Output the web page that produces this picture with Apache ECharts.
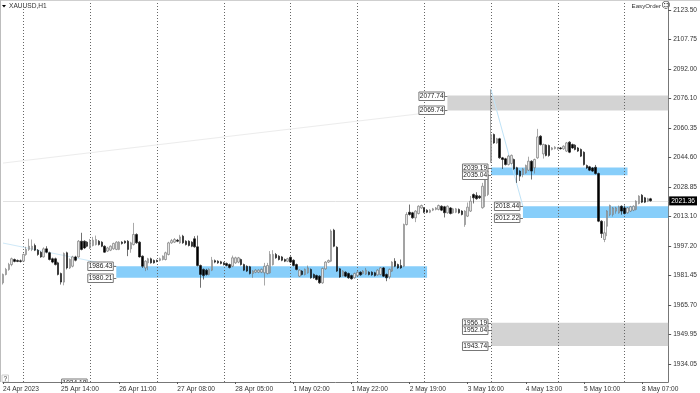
<!DOCTYPE html>
<html><head><meta charset="utf-8">
<style>html,body{margin:0;padding:0;background:#fff}#c{width:700px;height:393px}</style>
<script src="https://cdn.jsdelivr.net/npm/echarts@6/dist/echarts.min.js"></script>
</head><body><div id="c"></div>
<script>
// Each row: [open, close, low, high]
const barsApr24=[[1977.5,1982.0,1976.6,1982.5],[1982.0,1984.7,1981.5,1985.5],[1984.7,1987.3,1984,1988.2],[1987.3,1990.4,1986.4,1991],[1990.0,1989.0,1988.5,1990.5],[1989.5,1989,1988.6,1990],[1989.3,1989,1988.4,1990]];
const barsApr25=[[1989.1,1992.7,1988.6,1993.2],[1992.7,1995.4,1992,1996.8],[1995.4,1997.1,1994.6,2001.1],[1995.4,1997.1,1994.5,2000.7],[1997.5,1995,1994.5,1998.5],[1995,1992.7,1992,1995.6],[1993.9,1991.4,1990.9,1994.5],[1991.4,1995.7,1991,1996.5],[1995.7,1993.9,1993.3,1997.1],[1993.6,1990,1989.5,1994.2],[1990.4,1988.6,1988,1991],[1990.4,1987.3,1986.8,1991],[1988.2,1982,1981.5,1988.8],[1982.5,1977.9,1976.6,1983],[1977.9,1993.2,1976.2,1993.8],[1993.6,1985.5,1984.7,1994.2],[1985.5,1990,1984.9,1990.6],[1986.4,1991.4,1985.8,1992],[1991.4,1989.6,1989,1992],[1991.4,1999.8,1991,2000.4],[1999.8,1995.4,1994.9,2004.3],[1999.8,1996.2,1995.6,2000.3],[1999.3,1997.1,1996.6,1999.8]];
const barsApr26=[[1996.2,1999.8,1995.6,2001],[1997.5,2000.3,1997,2002.1],[1998,2000.7,1997.5,2002.8],[1999.8,1998,1997.5,2000.4],[1999.3,1997.1,1996.6,1999.8],[1997.1,1993.9,1993.6,1997.6],[1994.5,1996.2,1994,1996.8],[1995,1997.1,1994.5,1997.6],[1995.7,1998.6,1995.2,1999],[1995.4,1999.3,1995,1999.8],[1995.4,1999.3,1995,1999.8],[1999.3,1998.6,1998,1999.8],[1999.8,1998.9,1998.4,2000.2],[1999.8,1995.4,1991.8,2000.4],[1995.7,1998.9,1993.6,1999.5],[1998,2003.4,1997.5,2009.6],[2003.4,1998.9,1998.4,2004],[1999.3,1991.4,1991,1999.8],[1991.8,1986.4,1985.5,1992.2],[1985.5,1989.1,1983.8,1989.6],[1988.2,1990.4,1984.3,1990.9],[1990.4,1988.2,1987.8,1991],[1989.5,1988.2,1987.8,1990]];
const barsApr27=[[1989.5,1989,1988.5,1990],[1989.5,1990.4,1989,1991],[1990,1991.8,1989.5,1992.2],[1990,1993.6,1989.5,1994.2],[1992.7,1998.9,1992.2,1999.5],[1998.9,2000.1,1998.4,2001],[1999.3,2000.7,1998.8,2001.5],[2000.3,1999.8,1999.3,2001],[1998.9,2002.1,1998.4,2003.2],[2002.5,1998.9,1998.4,2003.2],[1999.8,1998,1997.5,2000.3],[1999.8,1997.5,1997,2000.3],[1999.3,1997.1,1996.6,1999.8],[2001.1,1996.8,1996.3,2002.5],[1996.8,1986.8,1986.3,2002.8],[1986.8,1982,1974.9,1987.3],[1984.7,1981.4,1979.3,1985.2],[1984.3,1982,1981.4,1985],[1982,1984.7,1981.5,1985.3],[1984.3,1989.6,1983.8,1991.4],[1989.4,1988.6,1988,1990],[1989.1,1988.2,1987.7,1989.6],[1988.8,1987.9,1987.4,1989.3]];
const barsApr28=[[1988.2,1987.3,1986.8,1988.7],[1987.9,1986.8,1986.3,1988.4],[1987.3,1985.7,1985.2,1987.8],[1986.4,1990.9,1985.9,1992.1],[1988.2,1990.9,1987.7,1991.5],[1988.6,1990.9,1988,1991.4],[1990,1987.3,1986.8,1990.5],[1987.3,1984.3,1983.8,1987.8],[1986.4,1983.8,1983.3,1986.9],[1986.1,1982.5,1982,1986.6],[1982.5,1983.8,1980.2,1984.3],[1983.2,1984.3,1982.7,1984.8],[1983.2,1984.3,1982.7,1984.8],[1983.2,1984.7,1982.7,1985.2],[1982.9,1986.4,1976.1,1988.2],[1982.5,1986.8,1982,1988.2],[1982.9,1992.7,1982.4,1994.5],[1987.3,1992.7,1986.8,1995],[1992.7,1990.9,1990.4,1993.5],[1991.8,1990,1989.5,1992.3],[1991.4,1989.6,1989.1,1991.9],[1990,1989.1,1988.6,1990.5],[1989.1,1990.4,1988.6,1990.9]];
const barsMay1=[[1991.2,1988.6,1988.1,1991.7],[1989.6,1986.8,1986.3,1990.1],[1987.3,1984.7,1984.2,1987.8],[1981.1,1984.3,1980.6,1984.8],[1983.8,1982,1981.5,1984.3],[1982,1984.7,1981.5,1985.2],[1982.9,1985.5,1982.4,1986.8],[1984.7,1980.2,1979.7,1985.2],[1982,1980.2,1979.7,1982.5],[1981.4,1979.3,1978.8,1981.9],[1981.1,1977.5,1977,1981.6],[1977.5,1985.2,1977,1985.7],[1985,1988.6,1984.5,1989.1],[1988.6,1989.5,1988.1,1990],[1989.1,2005.2,1988.6,2006.1],[2005.7,1997.1,1996.6,2006.4],[1996.6,1983.8,1983.3,1997.1],[1985,1980.7,1980.2,1985.5],[1981.4,1983.8,1980.9,1984.3],[1983.2,1981.1,1980.6,1983.7],[1982.5,1980.2,1979.7,1983],[1981.4,1979.7,1979.2,1981.9],[1980.2,1982.5,1979.7,1983]];
const barsMay2=[[1981.4,1983.2,1980.9,1983.7],[1983.2,1981.8,1981.3,1983.7],[1982.5,1983.8,1982,1984.3],[1982.2,1984.3,1981.7,1985.5],[1983.2,1982,1981.5,1983.7],[1983.2,1981.8,1981.3,1983.7],[1982.9,1981.4,1980.9,1983.4],[1981.8,1984.3,1981.3,1984.8],[1982,1985.5,1981.5,1986],[1985.5,1981.1,1980.6,1986],[1982,1980.2,1978.4,1982.5],[1980.7,1984.7,1979.5,1985.2],[1983.8,1988.6,1983.3,1989.1],[1989.1,1986.4,1985.9,1990.7],[1987.3,1985.5,1985,1987.8],[1986.8,1985.5,1985,1990],[1986.4,2008.7,1985.9,2009.2],[2008.7,2014.1,2008.2,2015.3],[2015.3,2014.1,2013.5,2019.4],[2015,2012.3,2011.8,2015.5],[2012.3,2015.9,2010,2016.4],[2014.6,2018.5,2014.1,2019],[2017.6,2018.9,2017.1,2019.4]];
const barsMay3=[[2017.6,2015.3,2014.8,2018.1],[2016.4,2015.3,2014.8,2016.9],[2015.3,2016.4,2014.8,2016.9],[2016.4,2017.1,2015.9,2017.6],[2016.8,2017.6,2016.3,2018.1],[2016.8,2018.9,2016.3,2019.4],[2018.5,2016.4,2015.9,2019],[2018.2,2015,2012.5,2018.7],[2015,2018.5,2014.5,2019],[2017.6,2014.6,2014.1,2018.1],[2015,2017.1,2014.5,2017.6],[2015.3,2017.1,2014.8,2017.6],[2016.8,2015,2014.5,2017.3],[2015.9,2014.1,2013.6,2016.4],[2008.7,2015.9,2007.5,2016.4],[2013.2,2018,2012.7,2020.5],[2015.9,2021.2,2015.4,2024],[2024.8,2023,2020,2025.3],[2024.3,2022.5,2022,2026],[2023.9,2023,2022.4,2024.4],[2017.7,2029.2,2017.2,2031],[2023.9,2032.8,2018,2038],[2024.8,2035.5,2024,2040]];
const barsMay4=[[2042.6,2056.9,2041.7,2081],[2056.9,2052.4,2051.9,2057.4],[2052.4,2054.6,2051.9,2055.1],[2054.6,2044.4,2043.9,2055.1],[2044.4,2043.5,2038.5,2044.9],[2043.9,2040.8,2040.3,2044.4],[2040.8,2045.3,2040.3,2046],[2041.4,2045.7,2040.9,2046.2],[2043.5,2038.5,2038,2044],[2039.1,2035.5,2031,2039.6],[2037.3,2034.6,2032,2037.8],[2035.5,2038.5,2034,2039],[2036.4,2040.3,2035.9,2040.8],[2037.8,2042.6,2037.3,2045],[2042.6,2037.3,2032.8,2043.1],[2039.1,2043.5,2036,2044],[2044.4,2055.6,2043.9,2059.9],[2056,2051.5,2051,2056.5],[2046.5,2051.5,2044,2052],[2051.2,2045.7,2045.2,2051.7],[2051,2045.7,2045,2051.5],[2048.9,2049.7,2048.4,2050.2],[2049.4,2050.1,2048.9,2050.6]];
const barsMay5=[[2049.2,2049.7,2048.7,2050.2],[2049.7,2049.3,2048.8,2050.2],[2049.2,2050.6,2048.7,2051.1],[2048,2052.4,2047.5,2052.9],[2052.8,2047.4,2046.9,2053.3],[2051.5,2049.7,2049.2,2052],[2051.2,2048.9,2048.4,2051.7],[2049.7,2048,2047.5,2050.2],[2048.9,2045.3,2044.8,2049.4],[2047.4,2040.8,2040.3,2047.9],[2040.3,2039,2038.5,2040.8],[2039.6,2037.8,2037.3,2040.1],[2039,2037.3,2036.8,2039.5],[2039.4,2036,2035.5,2040.6],[2036,2010.5,2010,2036.5],[2010.5,2003.9,2001.5,2011],[2000.7,2004.3,1999.3,2010.5],[2007.8,2015.9,2002.5,2016.4],[2014.1,2018.9,2013.2,2019.4],[2014.1,2017.6,2013,2018.1],[2015.9,2017.6,2014.5,2018.2],[2015,2018.2,2014.5,2018.9],[2018.5,2015.9,2014,2019]];
const barsMay8=[[2017.6,2014.6,2014.1,2018.9],[2015,2017.6,2014.5,2018.1],[2015.9,2018.2,2015.4,2018.7],[2016.4,2018.5,2015.9,2019],[2016.8,2021.2,2016.3,2021.7],[2020,2023.9,2019.5,2024.4],[2024.4,2020.7,2020.2,2025],[2023,2020.7,2020.2,2023.5],[2021.2,2022.5,2020.7,2023],[2022.5,2021.4,2021,2023]];
const bars=[].concat(barsApr24,barsApr25,barsApr26,barsApr27,barsApr28,barsMay1,barsMay2,barsMay3,barsMay4,barsMay5,barsMay8);

const slotCount=230;
const categories=Array.from({length:slotCount},(_,i)=>String(i));
const tickStep=20;
const timeLabels=['24 Apr 2023','25 Apr 14:00','26 Apr 11:00','27 Apr 08:00','28 Apr 05:00','1 May 02:00','1 May 22:00','2 May 19:00','3 May 16:00','4 May 13:00','5 May 10:00','8 May 07:00'];
const priceTicks=[2123.50,2107.75,2092.00,2076.10,2060.35,2044.60,2028.85,2013.10,1997.20,1981.45,1965.70,1949.95,1934.05];
const daySeparators=[7,30,53,76,99,122,145,168,191,214];
const lastPrice=2021.36;
// zone: [first slot, last slot, upper price, lower price]
const blueZones=[[39,146,1986.43,1980.21],[168,215,2039.19,2035.04],[179,229,2018.44,2012.22]];
const grayZones=[[153,229,2077.74,2069.74],[168,229,1956.19,1943.74]];
// price tag: [slot of zone start, price]
const priceTags=[[39,1986.43],[39,1980.21],[30,1924.18],[153,2077.74],[153,2069.74],[168,2039.19],[168,2035.04],[179,2018.44],[179,2012.22],[168,1956.19],[168,1952.04],[168,1943.74]];
// trend line: [slotA, priceA, slotB, priceB, colour]
const trendLines=[[0,1998.8,39,1986.43,'#cfe9f8'],[168,2081,179,2018.44,'#bfe3f7'],[0,2041.6,153,2069.74,'#ececec'],[0,1940.5,20,1924.18,'#e8e0e0'],[0,1930.9,20,1924.18,'#e8e0e0']];

const font='"Liberation Sans",Arial,sans-serif';
const fs=6.6;
const chart=echarts.init(document.getElementById('c'),null,{renderer:'canvas'});
const zoneArea=(z,c)=>[{coord:[z[0],z[2]],itemStyle:{color:c}},{coord:[z[1],z[3]]}];
chart.setOption({
  animation:false,
  backgroundColor:'#fff',
  grid:{left:1,top:2,width:669,height:380,containLabel:false},
  xAxis:{type:'category',data:categories,boundaryGap:false,
    axisLine:{lineStyle:{color:'#777',width:1}},
    axisTick:{length:2,interval:i=>i%tickStep===0,lineStyle:{color:'#555'}},
    axisLabel:{interval:i=>i%tickStep===0,align:'left',margin:4,color:'#333',fontFamily:font,fontSize:fs,
      formatter:(v,i)=>timeLabels[i/tickStep]||''},
    splitLine:{show:false}},
  yAxis:{type:'value',position:'right',min:1924.46,max:2127.78,scale:true,
    axisLine:{show:true,lineStyle:{color:'#777',width:1}},
    axisTick:{show:true,length:3,customValues:priceTicks,lineStyle:{color:'#555'}},
    axisLabel:{customValues:priceTicks,margin:5,color:'#333',fontFamily:font,fontSize:fs,formatter:v=>v.toFixed(2)},
    splitLine:{show:false}},
  series:[
    {type:'line',name:'guides',data:[],silent:true,z:1,
      markArea:{silent:true,data:[...blueZones.map(z=>zoneArea(z,'#87cefa')),...grayZones.map(z=>zoneArea(z,'#d3d3d3'))]},
      markLine:{silent:true,symbol:'none',z:1,animation:false,label:{show:false},
        data:[
          ...daySeparators.map(i=>({xAxis:i,lineStyle:{color:'#666',type:[1,2],width:1}})),
          {yAxis:lastPrice,lineStyle:{color:'#e2e2e2',type:'solid',width:1},
            label:{show:true,position:'end',distance:1,formatter:lastPrice.toFixed(2),color:'#fff',backgroundColor:'#000',fontFamily:font,fontSize:fs,padding:[1,2,1,2]}},
          ...trendLines.map(t=>[{coord:[t[0],t[1]],lineStyle:{color:t[4],type:'solid',width:1}},{coord:[t[2],t[3]]}])
        ]}},
    {type:'candlestick',name:'XAUUSD',data:bars,barWidth:2,z:3,clip:true,
      itemStyle:{color:'#e4e4e4',color0:'#000',borderColor:'#6e6e6e',borderColor0:'#111',borderWidth:0.6}},
    {type:'custom',name:'tags',data:priceTags,z:6,clip:true,silent:true,encode:{x:0,y:1},
      renderItem:(p,api)=>{
        const pt=api.coord([api.value(0),api.value(1)]);
        const x=pt[0],y=Math.round(pt[1]);
        return {type:'group',children:[
          {type:'line',shape:{x1:x-3,y1:y+.5,x2:x,y2:y+.5},style:{stroke:'#777',lineWidth:1}},
          {type:'rect',shape:{x:x-28.5,y:y-4,width:25.5,height:8.5},style:{fill:'#fff',stroke:'#777',lineWidth:1}},
          {type:'text',x:x-15.7,y:y+.5,style:{text:api.value(1).toFixed(2),fill:'#222',font:fs+'px '+font,align:'center',verticalAlign:'middle'}}
        ]};
      }}
  ],
  graphic:[
    {type:'rect',shape:{x:0,y:0,width:700,height:1},style:{fill:'#cfcfcf'},silent:true},
    {type:'rect',shape:{x:0,y:0,width:1,height:382},style:{fill:'#bdbdbd'},silent:true},
    {type:'polygon',shape:{points:[[2,5],[6,5],[4,7.5]]},style:{fill:'#000'},silent:true},
    {type:'text',x:9,y:2.5,style:{text:'XAUUSD,H1',fill:'#333',font:fs+'px '+font},silent:true},
    {type:'text',x:631.5,y:3,style:{text:'EasyOrder',fill:'#333',font:'6.2px '+font},silent:true},
    {type:'text',x:661,y:1.5,style:{text:'\u263A',fill:'#333',font:'9px "DejaVu Sans"'},silent:true},
    {type:'rect',shape:{x:2,y:375,width:6.5,height:7},style:{fill:'#fff',stroke:'#ccc',lineWidth:1},silent:true},
    {type:'text',x:3.5,y:375.5,style:{text:'?',fill:'#333',font:fs+'px '+font},silent:true}
  ]
});
</script></body></html>
